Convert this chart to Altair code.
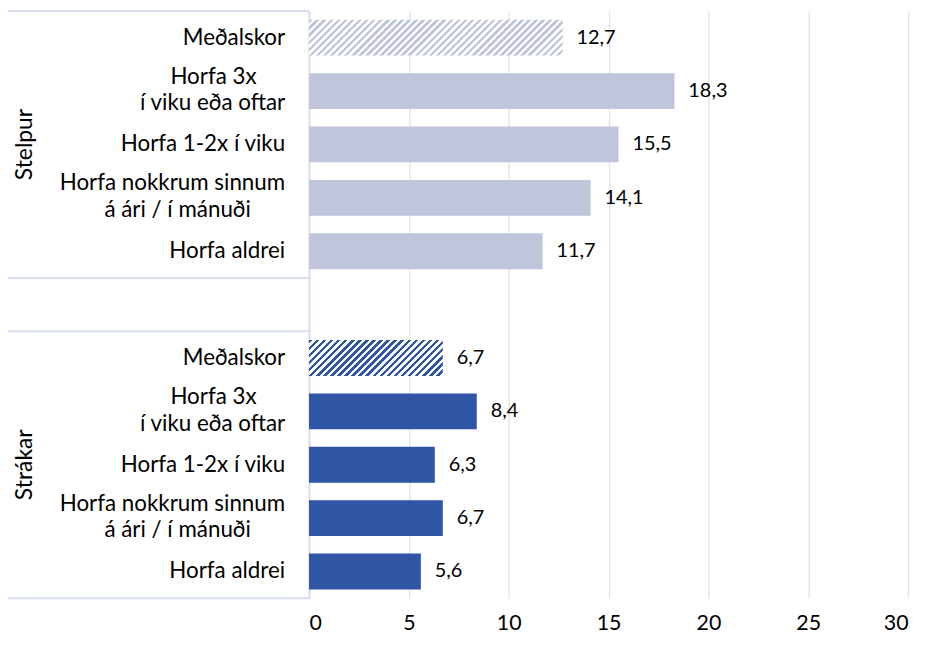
import math
import altair as alt
import pandas as pd

NB = "\u00a0"   # non-breaking space (kept by SVG)
ZW = "\u200b"   # zero-width char so the padding is not trimmed
groups = ["Stelpur", "Strákar"]
categories = [
    "Meðalskor",
    "Horfa 3x" + NB * 5 + ZW + "|í viku eða oftar",
    "Horfa 1-2x í viku",
    "Horfa nokkrum sinnum|á ári / í mánuði" + NB * 6 + ZW,
    "Horfa aldrei",
]
stelpur = [12.7, 18.3, 15.5, 14.1, 11.7]
strakar = [6.7, 8.4, 6.3, 6.7, 5.6]
x_ticks = [0, 5, 10, 15, 20, 25, 30]

colors = {"Stelpur": "#BFC6DC", "Strákar": "#2F55A5"}
LINE = "#D6DEF0"
FONT = "Lato"
W_PLOT = 603
H_PLOT = 591
LEFT = 303
LH = 27

rows = []
keys = []
for g, vals in zip(groups, [stelpur, strakar]):
    for i, (c, v) in enumerate(zip(categories, vals)):
        k = f"{g}|{i}"
        parts = c.split("|")
        rows.append({"key": k, "group": g, "idx": i, "value": v, "mean": i == 0,
                     "l1": parts[0], "l2": parts[1] if len(parts) > 1 else "",
                     "multi": len(parts) > 1})
        keys.append(k)
    if g == groups[0]:
        keys.append("gap")
df = pd.DataFrame(rows)

PAD_IN = 0.33
step = H_PLOT / (len(keys))
band = step * (1 - PAD_IN)

yscale = alt.Scale(domain=keys, paddingInner=PAD_IN, paddingOuter=PAD_IN / 2)
xscale = alt.Scale(domain=[0, 30], nice=False, zero=True)

base = alt.Chart(df)
Y = alt.Y("key:N", scale=yscale, axis=alt.Axis(labels=False, ticks=False, title=None,
                                               domainColor=LINE, domainWidth=2,
                                               grid=False))
X = alt.X("value:Q", scale=xscale,
          axis=alt.Axis(values=x_ticks, title=None, domain=False, ticks=False,
                        gridColor="#E6E6E6", gridWidth=1.5, labelFontSize=21.5,
                        labelColor="#000000", labelFont=FONT, labelPadding=32,
                        labelBaseline="alphabetic"))

bars = base.transform_filter("!datum.mean").mark_bar().encode(
    x=X, y=Y,
    color=alt.Color("group:N", scale=alt.Scale(domain=groups, range=[colors[g] for g in groups]),
                    legend=None),
)


def hatch(color, value, period=5.0):
    W = value * W_PLOT / 30.0
    H = band
    k = H / W
    s = (1 + k) / (1 + k * k)
    n = max(1, round((W + H) / math.sqrt(2) / period))
    stops = []
    for i in range(n):
        t0, tm, t1 = i / n, (i + 0.5) / n, (i + 1) / n
        stops += [
            {"offset": t0, "color": color},
            {"offset": tm, "color": color},
            {"offset": tm, "color": "#FFFFFF"},
            {"offset": t1, "color": "#FFFFFF"},
        ]
    return {"gradient": "linear", "x1": 0, "y1": 0, "x2": s, "y2": s * k, "stops": stops}


mean_layers = []
for g, vals in zip(groups, [stelpur, strakar]):
    mean_layers.append(
        base.transform_filter(f"datum.mean && datum.group == '{g}'")
        .mark_bar(fill=hatch(colors[g], vals[0]))
        .encode(x=X, y=Y)
    )

vlabels = base.transform_calculate(
    txt="replace(format(datum.value, '.1f'), '.', ',')"
).mark_text(align="left", baseline="middle", dx=14, fontSize=20, font=FONT,
            color="#000000").encode(x="value:Q", y=Y, text="txt:N")

txt_style = dict(align="right", baseline="middle", fontSize=22.5, font=FONT, color="#000000")
cat_single = base.transform_filter("!datum.multi").mark_text(**txt_style).encode(
    x=alt.value(-24), y=Y, text="l1:N")
cat_l1 = base.transform_filter("datum.multi").mark_text(dy=-LH / 2 - 1, **txt_style).encode(
    x=alt.value(-24), y=Y, text="l1:N")
cat_l2 = base.transform_filter("datum.multi").mark_text(dy=LH / 2 - 1, **txt_style).encode(
    x=alt.value(-24), y=Y, text="l2:N")

grp_df = pd.DataFrame({"group": groups, "key": [f"{g}|2" for g in groups]})
grplabels = alt.Chart(grp_df).mark_text(angle=270, align="center", baseline="middle",
                                        fontSize=23, font=FONT, color="#000000").encode(
    x=alt.value(-286), y=alt.Y("key:N", scale=yscale), text="group:N")

sep_df = pd.DataFrame({"key": ["gap"]})
gap_half = (step - band) / 2
sep_top = alt.Chart(sep_df).mark_rule(color=LINE, strokeWidth=2).encode(
    x=alt.value(-LEFT), x2=alt.value(0), y=alt.Y("key:N", scale=yscale),
    yOffset=alt.value(-gap_half))
sep_bot = alt.Chart(sep_df).mark_rule(color=LINE, strokeWidth=2).encode(
    x=alt.value(-LEFT), x2=alt.value(0), y=alt.Y("key:N", scale=yscale),
    yOffset=alt.value(band + gap_half))
frame_top = alt.Chart(sep_df).mark_rule(color=LINE, strokeWidth=2).encode(
    x=alt.value(-LEFT), x2=alt.value(0), y=alt.value(0))
frame_bot = alt.Chart(sep_df).mark_rule(color=LINE, strokeWidth=2).encode(
    x=alt.value(-LEFT), x2=alt.value(0), y=alt.value(H_PLOT))

chart = alt.layer(
    bars, *mean_layers, vlabels, cat_single, cat_l1, cat_l2, grplabels,
    sep_top, sep_bot, frame_top, frame_bot
).properties(
    width=W_PLOT, height=H_PLOT,
    autosize=alt.AutoSizeParams(type="none"),
    padding={"left": LEFT, "top": 1, "right": 12, "bottom": 38},
).configure_view(stroke=None).configure_text(font=FONT)

chart.save("out.html", embed_options={"renderer": "svg", "actions": False})
